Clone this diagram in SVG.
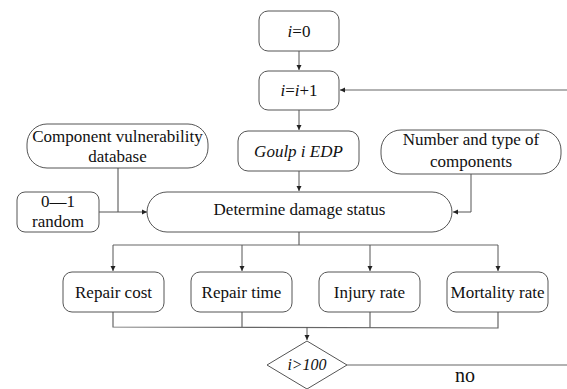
<svg xmlns="http://www.w3.org/2000/svg" width="567" height="389" viewBox="0 0 567 389" font-family="'Liberation Serif', 'Times New Roman', Times, serif">
<defs>
<marker id="ah" markerWidth="6" markerHeight="6" refX="5" refY="3" orient="auto" markerUnits="userSpaceOnUse">
<path d="M0,0.5 L5,3 L0,5.5 Z" fill="#222"/>
</marker>
</defs>
<style>
.box{fill:#fff;stroke:#555;stroke-width:1}
.ln{fill:none;stroke:#666;stroke-width:1.2}
.ar{fill:none;stroke:#555;stroke-width:1;marker-end:url(#ah)}
text{font-family:'Liberation Serif','Times New Roman',Times,serif;font-size:17px;fill:#111;text-anchor:middle}
.it{font-style:italic}
</style>
<rect width="567" height="389" fill="#fff"/>
<g id="connectors">
<line class="ar" x1="299" y1="51" x2="299" y2="70"/>
<line class="ar" x1="299" y1="110" x2="299" y2="130"/>
<line class="ar" x1="299" y1="171" x2="299" y2="191"/>
<polyline class="ln" points="567,90 346,90"/>
<line class="ar" x1="346" y1="90" x2="340" y2="90"/>
<polyline class="ln" points="118,168 118,212"/>
<line class="ar" x1="99" y1="212" x2="147" y2="212"/>
<polyline class="ar" points="471,174 471,212 453,212"/>
<line class="ln" x1="299" y1="232" x2="299" y2="245"/>
<line class="ln" x1="113" y1="245" x2="498" y2="245"/>
<line class="ar" x1="113" y1="245" x2="113" y2="271"/>
<line class="ar" x1="242" y1="245" x2="242" y2="271"/>
<line class="ar" x1="370" y1="245" x2="370" y2="271"/>
<line class="ar" x1="498" y1="245" x2="498" y2="271"/>
<polyline class="ln" points="113,312 113,327 498,328 498,312"/>
<line class="ln" x1="242" y1="312" x2="242" y2="327"/>
<line class="ln" x1="370" y1="312" x2="370" y2="328"/>
<line class="ar" x1="307" y1="327" x2="307" y2="340"/>
<line class="ln" x1="347" y1="365" x2="567" y2="365"/>
</g>
<g id="start">
<rect class="box" x="259" y="11" width="80" height="40" rx="9"/>
<text x="299" y="37"><tspan class="it">i</tspan>=0</text>
</g>
<g id="increment">
<rect class="box" x="259" y="71" width="80" height="39" rx="9"/>
<text x="299" y="96"><tspan class="it">i</tspan>=<tspan class="it">i</tspan>+1</text>
</g>
<g id="vulnerability-db">
<rect class="box" x="27" y="124" width="181" height="44" rx="20"/>
<text x="117.5" y="142">Component vulnerability</text>
<text x="117.5" y="162">database</text>
</g>
<g id="edp">
<rect class="box" x="238" y="131" width="121" height="40" rx="10"/>
<text class="it" x="298.5" y="157">Goulp i EDP</text>
</g>
<g id="components">
<rect class="box" x="381" y="130" width="180" height="44" rx="20"/>
<text x="471" y="145">Number and type of</text>
<text x="471" y="167">components</text>
</g>
<g id="random">
<rect class="box" x="17" y="192" width="82" height="40" rx="8"/>
<text x="58" y="207">0—1</text>
<text x="58" y="227">random</text>
</g>
<g id="damage">
<rect class="box" x="147" y="192" width="305" height="40" rx="20"/>
<text x="299.5" y="215">Determine damage status</text>
</g>
<g id="repair-cost">
<rect class="box" x="63" y="272" width="101" height="40" rx="9"/>
<text x="113.5" y="298">Repair cost</text>
</g>
<g id="repair-time">
<rect class="box" x="191" y="272" width="101" height="40" rx="9"/>
<text x="241.5" y="298">Repair time</text>
</g>
<g id="injury-rate">
<rect class="box" x="319" y="272" width="101" height="40" rx="9"/>
<text x="369.5" y="298">Injury rate</text>
</g>
<g id="mortality-rate">
<rect class="box" x="447" y="272" width="101" height="40" rx="9"/>
<text x="497.5" y="298">Mortality rate</text>
</g>
<g id="decision">
<polygon class="box" points="307,341 347,365 307,389 267,365"/>
<text class="it" x="307" y="370" style="font-size:16px">i&gt;100</text>
</g>
<g id="no-label">
<text x="465" y="382" style="font-size:20px">no</text>
</g>
</svg>
